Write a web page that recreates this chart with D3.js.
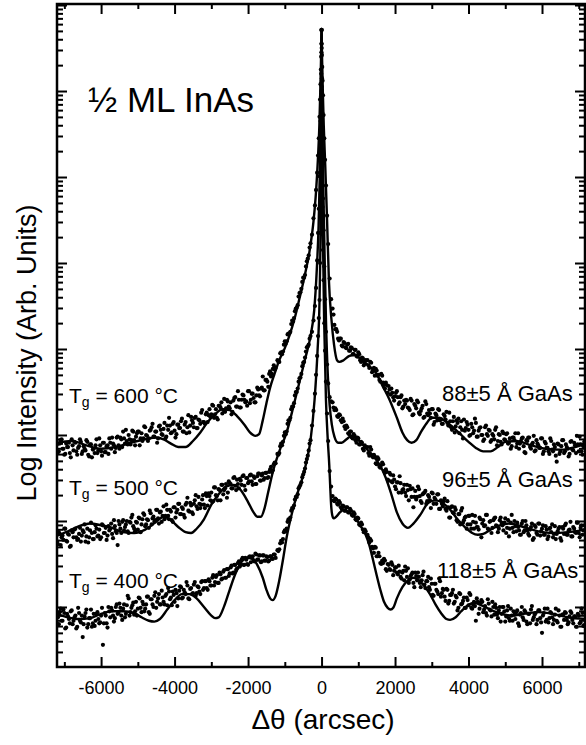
<!DOCTYPE html>
<html><head><meta charset="utf-8">
<script src="https://cdn.jsdelivr.net/npm/d3@7"></script>
<style>
body{margin:0;background:#fff}
svg{display:block}
text{font-family:"Liberation Sans",Arial,Helvetica,sans-serif;fill:#000}
</style>
</head><body>
<svg id="chart" width="586" height="745"></svg>
<script>
// ---- axis ticks ----
const xMajorTicks = [-6000,-4000,-2000,0,2000,4000,6000];
const xMinorTicks = [-7000,-5000,-3000,-1000,1000,3000,5000,7000];

// ---- scan grid A (Δθ, arcsec) shared by the three measured curves ----
const deltaTheta = [
-7200,-7150,-7100,-7050,-7000,-6950,-6900,-6850,-6800,-6750,
-6700,-6650,-6600,-6550,-6500,-6450,-6400,-6350,-6300,-6250,
-6200,-6150,-6100,-6050,-6000,-5950,-5900,-5850,-5800,-5750,
-5700,-5650,-5600,-5550,-5500,-5450,-5400,-5350,-5300,-5250,
-5200,-5150,-5100,-5050,-5000,-4950,-4900,-4850,-4800,-4750,
-4700,-4650,-4600,-4550,-4500,-4450,-4400,-4350,-4300,-4250,
-4200,-4150,-4100,-4050,-4000,-3950,-3900,-3850,-3800,-3750,
-3700,-3650,-3600,-3550,-3500,-3450,-3400,-3350,-3300,-3250,
-3200,-3150,-3100,-3050,-3000,-2950,-2900,-2850,-2800,-2750,
-2700,-2650,-2600,-2550,-2500,-2450,-2400,-2350,-2300,-2250,
-2200,-2150,-2100,-2050,-2000,-1950,-1900,-1850,-1800,-1750,
-1700,-1650,-1600,-1550,-1500,-1450,-1400,-1350,-1300,-1250,
-1200,-1150,-1100,-1050,-1000,-950,-900,-850,-800,-750,-700,-650,-600,-550,-500,-450,-400,-350,
-300,-260,-220,-180,-150,-120,-95,-75,-55,-40,-28,-18,-10,-4,
0,
4,10,18,28,40,55,75,95,120,150,180,220,260,300,
350,400,450,500,550,600,650,700,750,800,850,900,950,1000,1050,1100,1150,1200,
1250,1300,1350,1400,1450,1500,1550,1600,1650,1700,
1750,1800,1850,1900,1950,2000,2050,2100,2150,2200,
2250,2300,2350,2400,2450,2500,2550,2600,2650,2700,
2750,2800,2850,2900,2950,3000,3050,3100,3150,3200,
3250,3300,3350,3400,3450,3500,3550,3600,3650,3700,
3750,3800,3850,3900,3950,4000,4050,4100,4150,4200,
4250,4300,4350,4400,4450,4500,4550,4600,4650,4700,
4750,4800,4850,4900,4950,5000,5050,5100,5150,5200,
5250,5300,5350,5400,5450,5500,5550,5600,5650,5700,
5750,5800,5850,5900,5950,6000,6050,6100,6150,6200,
6250,6300,6350,6400,6450,6500,6550,6600,6650,6700,
6750,6800,6850,6900,6950,7000,7050,7100,7150
];

// ---- measured log10 intensity (arb. units) on grid A ----
const meas600 = [
1.89,1.81,1.94,1.84,1.77,1.90,1.86,1.79,1.95,1.82,
1.91,1.77,1.87,1.92,1.81,1.84,1.94,1.77,1.89,1.74,
1.84,1.88,1.79,1.96,1.81,1.91,1.80,1.87,1.78,1.91,
1.97,1.88,1.85,1.98,1.84,1.95,2.04,1.90,1.93,2.00,
1.89,2.05,1.94,1.98,2.04,1.88,2.02,1.96,2.09,1.99,
1.96,2.06,2.13,1.98,2.04,1.96,2.11,2.01,2.07,1.96,
2.11,2.20,2.02,2.13,2.05,2.01,2.12,2.08,2.19,2.04,
2.15,2.09,2.03,2.21,2.14,2.20,2.08,2.18,2.13,2.29,
2.15,2.24,2.15,2.30,2.24,2.34,2.24,2.20,2.34,2.32,
2.25,2.42,2.31,2.39,2.31,2.24,2.40,2.44,2.33,2.41,
2.32,2.47,2.41,2.39,2.51,2.37,2.48,2.43,2.38,2.55,
2.46,2.54,2.68,2.52,2.64,2.56,2.74,2.71,2.81,2.78,
2.87,2.85,2.96,2.97,3.09,3.09,3.18,3.20,3.33,3.36,3.47,3.51,3.65,3.70,3.83,3.86,4.02,4.09,
4.23,4.33,4.52,4.67,4.85,5.05,5.25,5.45,5.70,5.90,6.08,6.25,6.40,6.55,
6.71,
6.55,6.42,6.28,6.12,5.95,5.72,5.45,5.20,4.90,4.55,4.22,3.82,3.58,3.47,
3.28,3.23,3.12,3.12,3.04,3.08,3.02,3.05,2.98,3.02,2.94,2.99,2.92,2.96,2.87,2.90,2.81,2.87,
2.87,2.78,2.84,2.75,2.69,2.75,2.70,2.62,2.69,2.58,
2.61,2.49,2.53,2.54,2.44,2.45,2.51,2.36,2.44,2.31,
2.40,2.41,2.32,2.29,2.40,2.24,2.34,2.40,2.26,2.28,
2.34,2.21,2.36,2.23,2.25,2.30,2.12,2.25,2.17,2.29,
2.18,2.13,2.22,2.27,2.11,2.16,2.06,2.21,2.10,2.14,
2.02,2.16,1.96,2.05,2.15,2.06,2.00,2.09,2.05,2.14,
1.98,2.08,2.00,1.93,2.09,2.01,2.06,1.92,2.01,1.95,
2.09,1.93,2.00,1.89,2.02,1.94,2.02,1.91,1.84,1.97,
1.94,1.86,2.02,1.90,1.96,1.87,1.79,1.93,1.97,1.84,
1.91,1.81,1.94,1.88,1.85,1.96,1.81,1.90,1.85,1.78,
1.93,1.81,1.86,1.69,1.89,1.81,1.94,1.79,1.89,1.84,
1.78,1.93,1.82,1.88,1.99,1.81,1.89,1.77,1.92
];
const meas500 = [
0.76,0.87,0.72,0.83,0.91,0.77,0.85,0.70,0.89,0.81,
0.91,0.78,0.85,0.76,0.89,0.96,0.82,0.75,0.89,0.86,
0.79,0.95,0.82,0.90,0.81,0.95,0.86,0.78,0.94,0.91,
0.85,1.01,0.88,0.72,0.96,0.86,1.01,0.93,1.00,0.86,
0.98,1.07,0.91,0.99,0.90,1.03,0.96,1.09,0.94,1.02,
0.92,1.09,1.03,0.99,1.13,1.03,1.10,0.99,1.17,1.06,
1.13,1.02,1.11,0.99,1.16,1.10,1.20,1.08,1.16,1.07,
1.19,1.27,1.11,1.18,1.08,1.24,1.17,1.28,1.15,1.25,
1.19,1.32,1.18,1.29,1.33,1.23,1.39,1.29,1.37,1.24,
1.42,1.36,1.43,1.33,1.44,1.38,1.50,1.41,1.48,1.38,
1.47,1.52,1.41,1.50,1.44,1.53,1.46,1.52,1.43,1.52,
1.55,1.47,1.55,1.50,1.56,1.51,1.60,1.57,1.66,1.67,
1.78,1.79,1.90,1.92,2.03,2.04,2.17,2.20,2.33,2.37,2.50,2.54,2.66,2.71,2.84,2.90,3.02,3.05,
3.15,3.20,3.33,3.50,3.71,4.03,4.35,4.63,5.01,5.33,5.65,5.93,6.20,6.45,
6.71,
6.50,6.15,5.75,5.30,4.75,4.38,3.96,3.58,3.20,2.82,2.60,2.44,2.39,2.38,
2.29,2.29,2.21,2.23,2.15,2.16,2.07,2.09,2.01,2.04,1.96,1.99,1.91,1.96,1.89,1.91,1.82,1.86,
1.86,1.76,1.83,1.74,1.75,1.66,1.72,1.62,1.68,1.58,
1.60,1.48,1.56,1.46,1.53,1.40,1.45,1.33,1.44,1.36,
1.42,1.29,1.36,1.41,1.28,1.16,1.35,1.28,1.37,1.23,
1.31,1.33,1.20,1.30,1.24,1.33,1.20,1.25,1.31,1.14,
1.24,1.17,1.26,1.12,1.16,1.04,1.17,1.09,1.13,0.99,
1.08,1.12,0.98,1.04,0.91,1.06,0.96,1.07,0.91,0.98,
0.93,1.04,0.81,1.01,0.95,1.07,0.90,1.00,0.92,1.03,
0.95,0.87,1.01,0.98,0.89,1.03,0.92,0.82,0.98,0.92,
1.00,0.88,0.93,0.84,0.97,0.87,1.00,0.89,0.83,0.93,
0.78,0.95,0.86,0.97,0.83,0.91,0.84,0.94,0.79,0.91,
0.87,0.81,0.94,0.85,0.91,0.80,0.93,0.85,0.97,0.84,
0.90,0.82,0.93,0.87,0.98,0.86,0.92,0.84,0.95
];
const meas400 = [
-0.07,-0.20,-0.02,-0.16,-0.07,-0.24,-0.11,-0.19,-0.04,-0.16,
-0.10,-0.23,-0.07,-0.18,-0.35,-0.11,-0.03,-0.20,-0.13,-0.23,
-0.08,-0.16,-0.06,-0.19,-0.10,-0.44,-0.07,-0.19,0.00,-0.12,
-0.04,-0.17,0.00,-0.08,0.04,-0.10,-0.02,-0.12,0.02,0.10,
-0.06,0.02,-0.09,0.06,-0.02,0.10,-0.06,0.03,-0.02,0.12,
-0.06,0.09,0.03,0.13,-0.01,0.10,0.03,0.19,0.06,0.13,
0.02,0.18,0.11,0.18,0.06,0.16,0.10,0.24,0.10,0.20,
0.15,0.25,0.09,0.22,0.16,0.29,0.16,0.23,0.15,0.30,
0.22,0.30,0.20,0.30,0.25,0.37,0.29,0.37,0.28,0.38,
0.33,0.43,0.34,0.44,0.39,0.48,0.40,0.49,0.45,0.53,
0.49,0.57,0.49,0.55,0.49,0.59,0.57,0.54,0.62,0.55,
0.60,0.52,0.60,0.54,0.59,0.53,0.59,0.56,0.61,0.57,
0.66,0.67,0.77,0.79,0.89,0.91,1.02,1.04,1.15,1.18,1.28,1.31,1.40,1.45,1.54,1.61,1.72,1.82,
1.94,2.11,2.28,2.48,2.70,2.92,3.15,3.36,3.57,4.00,4.35,4.80,5.38,6.00,
6.71,
6.05,5.55,5.12,4.65,4.15,3.80,3.30,2.98,2.62,2.25,1.93,1.58,1.40,1.29,
1.23,1.25,1.19,1.21,1.14,1.17,1.12,1.16,1.10,1.12,1.06,1.08,1.01,1.03,0.95,0.96,0.87,0.88,
0.84,0.75,0.77,0.68,0.70,0.59,0.63,0.51,0.54,0.56,
0.44,0.50,0.44,0.52,0.37,0.46,0.40,0.48,0.35,0.40,
0.31,0.42,0.45,0.32,0.38,0.28,0.40,0.31,0.35,0.23,
0.37,0.26,0.30,0.35,0.20,0.27,0.13,0.27,0.18,0.33,
0.12,0.21,0.12,0.21,0.04,0.14,0.16,0.04,0.13,-0.04,
0.16,0.03,0.07,-0.01,0.11,0.02,0.14,-0.02,0.06,-0.16,
0.06,-0.02,0.08,-0.06,0.01,-0.10,0.04,-0.04,0.06,-0.09,
-0.01,-0.13,0.00,-0.08,0.00,-0.17,-0.04,-0.13,-0.02,-0.16,
-0.09,-0.06,-0.19,-0.09,0.00,-0.15,-0.06,-0.20,-0.08,-0.03,
-0.15,-0.09,-0.20,-0.04,-0.13,-0.30,-0.07,-0.17,-0.02,-0.13,
-0.07,-0.20,-0.09,-0.16,-0.04,-0.23,-0.09,-0.15,-0.07,-0.20,
-0.11,-0.07,-0.19,-0.11,-0.23,-0.10,-0.18,-0.07,-0.21
];

// ---- scan grid B (interleaved points, Δθ arcsec) ----
const deltaThetaB = [
-7175,-7125,-7075,-7025,-6975,-6925,-6875,-6825,-6775,-6725,
-6675,-6625,-6575,-6525,-6475,-6425,-6375,-6325,-6275,-6225,
-6175,-6125,-6075,-6025,-5975,-5925,-5875,-5825,-5775,-5725,
-5675,-5625,-5575,-5525,-5475,-5425,-5375,-5325,-5275,-5225,
-5175,-5125,-5075,-5025,-4975,-4925,-4875,-4825,-4775,-4725,
-4675,-4625,-4575,-4525,-4475,-4425,-4375,-4325,-4275,-4225,
-4175,-4125,-4075,-4025,-3975,-3925,-3875,-3825,-3775,-3725,
-3675,-3625,-3575,-3525,-3475,-3425,-3375,-3325,-3275,-3225,
-3175,-3125,-3075,-3025,-2975,-2925,-2875,-2825,-2775,-2725,
-2675,-2625,-2575,-2525,-2475,-2425,-2375,-2325,-2275,-2225,
-2175,-2125,-2075,-2025,-1975,-1925,-1875,-1825,-1775,-1725,
-1675,-1625,-1575,-1525,-1475,-1425,-1375,-1325,-1275,
-1175,-1125,-1075,-1025,-975,-925,-875,-825,-775,-725,-675,-625,-575,-525,-475,-425,-375,-325,
325,375,425,475,525,575,625,675,725,775,825,875,925,975,1025,1075,1125,1175,
1275,1325,1375,1425,1475,1525,1575,1625,1675,1725,
1775,1825,1875,1925,1975,2025,2075,2125,2175,2225,
2275,2325,2375,2425,2475,2525,2575,2625,2675,2725,
2775,2825,2875,2925,2975,3025,3075,3125,3175,3225,
3275,3325,3375,3425,3475,3525,3575,3625,3675,3725,
3775,3825,3875,3925,3975,4025,4075,4125,4175,4225,
4275,4325,4375,4425,4475,4525,4575,4625,4675,4725,
4775,4825,4875,4925,4975,5025,5075,5125,5175,5225,
5275,5325,5375,5425,5475,5525,5575,5625,5675,5725,
5775,5825,5875,5925,5975,6025,6075,6125,6175,6225,
6275,6325,6375,6425,6475,6525,6575,6625,6675,6725,
6775,6825,6875,6925,6975,7025,7075,7125
];
const measB600 = [
1.80,1.90,1.95,1.84,1.78,1.86,1.91,1.74,1.88,1.92,
1.81,1.85,1.95,1.78,1.87,1.82,1.92,1.75,1.89,1.83,
1.79,1.95,1.82,1.88,1.76,1.91,1.80,1.88,1.96,1.84,
1.90,1.80,1.97,1.88,1.97,1.86,1.96,2.06,1.89,1.95,
1.94,2.04,1.88,2.02,2.04,1.96,1.93,2.10,2.00,1.93,
2.05,2.09,1.98,2.04,1.91,2.10,2.06,2.00,2.14,1.98,
2.06,2.11,2.03,2.15,1.97,2.12,2.08,2.16,2.04,2.12,
2.02,2.23,2.11,2.17,2.09,2.21,2.08,2.17,2.26,2.15,
2.13,2.26,2.23,2.21,2.35,2.20,2.30,2.18,2.34,2.38,
2.29,2.27,2.41,2.33,2.38,2.27,2.43,2.33,2.51,2.32,
2.41,2.46,2.38,2.34,2.51,2.41,2.48,2.38,2.46,2.53,
2.45,2.55,2.52,2.64,2.62,2.71,2.68,2.77,2.76,
2.85,2.95,2.94,3.05,3.06,3.17,3.18,3.29,3.32,3.44,3.48,3.61,3.66,3.78,3.83,3.96,4.05,4.18,
3.40,3.23,3.20,3.10,3.12,3.03,3.07,3.01,3.06,2.98,3.01,2.94,2.99,2.91,2.94,2.85,2.89,2.83,
2.81,2.85,2.73,2.78,2.77,2.69,2.64,2.71,2.61,2.54,
2.58,2.57,2.47,2.49,2.40,2.49,2.44,2.38,2.46,2.33,
2.36,2.40,2.31,2.42,2.23,2.36,2.31,2.38,2.24,2.31,
2.20,2.39,2.25,2.29,2.20,2.30,2.15,2.23,2.30,2.17,
2.13,2.24,2.18,2.14,2.26,2.09,2.16,2.03,2.17,2.19,
2.09,2.06,2.18,2.08,2.12,1.99,2.13,2.02,2.19,1.98,
2.05,2.09,2.00,1.95,2.11,1.99,2.05,1.94,1.99,2.06,
1.88,2.01,1.92,2.04,1.95,2.01,1.90,1.96,1.87,1.97,
2.02,1.90,1.84,1.93,1.97,1.80,1.94,1.97,1.86,1.89,
1.99,1.82,1.90,1.85,1.96,1.78,1.92,1.85,1.81,1.96,
1.83,1.89,1.76,1.90,1.78,1.87,1.94,1.81,1.86,1.75,
1.92,1.83,1.91,1.79,1.89,1.98,1.81,1.87
];
const measB500 = [
0.73,0.85,0.81,0.78,0.91,0.76,0.84,0.71,0.87,0.90,
0.81,0.79,0.92,0.83,0.87,0.76,0.91,0.81,0.98,0.79,
0.87,0.91,0.83,0.79,0.96,0.86,0.92,0.83,0.89,0.97,
0.80,0.94,0.86,1.00,0.91,0.99,0.89,0.96,0.88,0.99,
1.04,0.94,0.88,0.98,1.04,0.87,1.02,1.07,0.96,1.01,
1.12,0.96,1.05,1.01,1.13,0.97,1.11,1.06,1.02,1.19,
1.06,1.13,1.01,1.16,1.04,1.13,1.20,1.08,1.14,1.04,
1.21,1.12,1.21,1.10,1.20,1.30,1.14,1.20,1.19,1.30,
1.15,1.29,1.32,1.24,1.22,1.39,1.30,1.24,1.36,1.42,
1.31,1.38,1.27,1.46,1.43,1.38,1.51,1.36,1.43,1.49,
1.42,1.53,1.36,1.50,1.46,1.54,1.42,1.50,1.43,1.55,
1.47,1.53,1.48,1.56,1.50,1.57,1.63,1.59,1.68,
1.77,1.87,1.88,1.99,2.01,2.13,2.17,2.30,2.33,2.46,2.50,2.62,2.67,2.80,2.85,2.97,3.03,3.12,
2.32,2.31,2.22,2.24,2.17,2.19,2.10,2.11,2.02,2.04,1.97,2.01,1.94,1.97,1.89,1.92,1.84,1.88,
1.79,1.86,1.76,1.77,1.67,1.74,1.63,1.65,1.66,1.56,
1.57,1.47,1.54,1.45,1.48,1.37,1.45,1.52,1.33,1.37,
1.33,1.42,1.24,1.37,1.38,1.28,1.25,1.40,1.29,1.21,
1.32,1.35,1.23,1.28,1.15,1.32,1.27,1.20,1.31,1.14,
1.20,1.23,1.14,1.23,1.04,1.16,1.10,1.16,1.01,1.08,
0.96,1.15,1.01,1.05,0.96,1.06,0.91,0.99,1.06,0.93,
0.90,1.02,0.97,0.94,1.07,0.91,0.99,0.86,1.01,1.04,
0.94,0.91,1.04,0.95,0.98,0.86,1.01,0.91,1.07,0.87,
0.94,0.98,0.89,0.84,1.00,0.89,0.95,0.85,0.90,0.97,
0.80,0.93,0.84,0.97,0.88,0.95,0.84,0.90,0.82,0.92,
0.96,0.85,0.79,0.88,0.93,0.77,0.91,0.95,0.84,0.89,
0.99,0.82,0.91,0.86,0.98,0.81,0.95,0.89
];
const measB400 = [
-0.12,-0.06,-0.16,-0.03,-0.25,-0.08,-0.14,-0.05,-0.20,-0.12,
-0.25,-0.01,-0.16,-0.10,-0.20,-0.07,-0.24,-0.13,-0.03,-0.19,
-0.22,-0.08,-0.14,-0.18,-0.01,-0.19,-0.10,-0.24,-0.05,-0.01,
-0.10,-0.13,0.03,-0.07,-0.01,-0.15,0.03,-0.08,0.13,-0.10,
-0.01,0.05,-0.05,-0.10,0.11,-0.01,0.06,-0.05,0.03,0.12,
-0.08,0.09,0.00,0.17,0.06,0.15,0.03,0.11,0.03,0.15,
0.22,0.09,0.02,0.14,0.20,0.01,0.19,0.23,0.11,0.17,
0.29,0.10,0.21,0.15,0.26,0.13,0.24,0.18,0.29,0.20,
0.30,0.22,0.32,0.25,0.34,0.25,0.35,0.28,0.40,0.32,
0.41,0.34,0.44,0.36,0.46,0.39,0.49,0.43,0.51,0.47,
0.55,0.49,0.57,0.50,0.58,0.52,0.59,0.53,0.61,0.55,
0.60,0.53,0.60,0.54,0.58,0.54,0.59,0.56,0.61,
0.65,0.74,0.75,0.87,0.88,0.99,1.01,1.12,1.15,1.25,1.28,1.38,1.42,1.51,1.57,1.68,1.76,1.90,
1.24,1.26,1.20,1.23,1.16,1.18,1.12,1.16,1.10,1.14,1.07,1.10,1.02,1.04,0.96,0.98,0.90,0.90,
0.81,0.79,0.70,0.63,0.69,0.59,0.59,0.50,0.51,0.54,
0.42,0.49,0.43,0.49,0.42,0.46,0.38,0.41,0.33,0.42,
0.47,0.35,0.28,0.36,0.40,0.23,0.36,0.40,0.28,0.31,
0.41,0.22,0.30,0.23,0.33,0.14,0.27,0.20,0.15,0.30,
0.16,0.20,0.07,0.20,0.07,0.14,0.20,0.06,0.11,-0.01,
0.15,0.04,0.11,-0.01,0.08,0.16,-0.01,0.03,0.01,0.10,
-0.08,0.05,0.06,-0.03,-0.07,0.09,-0.03,-0.11,0.00,0.03,
-0.09,-0.04,-0.17,0.00,-0.05,-0.11,0.01,-0.16,-0.10,-0.05,
-0.14,-0.04,-0.22,-0.07,-0.12,-0.04,-0.17,-0.08,-0.19,0.01,
-0.12,-0.07,-0.15,-0.04,-0.18,-0.10,-0.02,-0.15,-0.18,-0.06,
-0.12,-0.15,-0.02,-0.18,-0.10,-0.23,-0.09,-0.06,-0.15,-0.18,
-0.05,-0.15,-0.11,-0.23,-0.08,-0.19,-0.02,-0.22
];

// ---- simulated (fit) curves: [Δθ, log10 intensity] ----
const fit600 = [[-7200,1.91],[-6800,1.93],[-6400,1.88],[-6000,1.84],[-5600,1.86],[-5200,1.91],[-4800,1.95],[-4500,1.97],[-4300,1.95],[-4100,1.90],[-3900,1.86],[-3700,1.86],[-3500,1.93],[-3300,2.03],[-3100,2.15],[-2900,2.24],[-2700,2.30],[-2500,2.29],[-2300,2.22],[-2100,2.12],[-1950,2.03],[-1800,1.99],[-1700,2.01],[-1600,2.17],[-1500,2.37],[-1400,2.55],[-1280,2.71],[-1150,2.87],[-1000,3.01],[-870,3.16],[-730,3.36],[-600,3.59],[-460,3.85],[-330,4.13],[-220,4.48],[-150,4.83],[-100,5.20],[-60,5.60],[-30,6.07],[-12,6.42],[0,6.71],[12,6.42],[30,6.07],[60,5.60],[100,5.14],[150,4.50],[200,3.80],[270,3.34],[340,3.05],[420,2.87],[490,2.85],[600,2.87],[760,2.92],[900,2.93],[1100,2.87],[1300,2.80],[1500,2.71],[1650,2.58],[1850,2.41],[2050,2.20],[2200,2.03],[2330,1.94],[2450,1.91],[2580,1.94],[2700,2.03],[2850,2.13],[3000,2.20],[3200,2.20],[3400,2.15],[3600,2.08],[3800,2.00],[4000,1.92],[4200,1.85],[4400,1.81],[4600,1.81],[4800,1.86],[5000,1.92],[5300,1.93],[5700,1.88],[6100,1.84],[6500,1.83],[6900,1.86],[7170,1.90]];
const fit500 = [[-7200,0.83],[-6900,0.88],[-6600,0.94],[-6300,0.97],[-6000,0.95],[-5700,0.92],[-5400,0.87],[-5100,0.86],[-4800,0.90],[-4500,0.99],[-4300,1.05],[-4100,1.01],[-3900,0.93],[-3700,0.87],[-3550,0.86],[-3400,0.91],[-3200,1.02],[-3000,1.19],[-2800,1.31],[-2600,1.40],[-2400,1.42],[-2200,1.36],[-2000,1.22],[-1850,1.10],[-1750,1.05],[-1650,1.05],[-1550,1.15],[-1450,1.34],[-1333,1.56],[-1150,1.81],[-950,2.03],[-750,2.36],[-600,2.62],[-450,2.88],[-300,3.15],[-200,3.45],[-130,3.92],[-80,4.44],[-45,5.08],[-20,5.78],[-8,6.30],[0,6.71],[8,6.30],[20,5.78],[45,4.96],[80,4.15],[120,3.34],[170,2.70],[220,2.35],[280,2.12],[350,1.98],[450,1.91],[550,1.91],[680,1.95],[820,1.99],[1000,1.94],[1200,1.85],[1400,1.76],[1600,1.64],[1750,1.50],[1900,1.31],[2050,1.10],[2200,0.97],[2350,0.92],[2500,0.97],[2700,1.08],[2900,1.21],[3100,1.24],[3300,1.21],[3500,1.13],[3700,1.02],[3900,0.93],[4100,0.86],[4250,0.84],[4400,0.85],[4600,0.90],[4800,0.94],[5100,0.97],[5500,0.93],[5900,0.88],[6300,0.86],[6700,0.87],[7170,0.90]];
const fit400 = [[-7200,-0.08],[-6900,-0.12],[-6600,-0.14],[-6300,-0.13],[-6000,-0.08],[-5700,-0.05],[-5400,-0.05],[-5100,-0.07],[-4900,-0.12],[-4700,-0.16],[-4550,-0.17],[-4400,-0.14],[-4200,-0.03],[-4000,0.08],[-3800,0.15],[-3600,0.15],[-3400,0.10],[-3200,0.00],[-3000,-0.10],[-2900,-0.13],[-2800,-0.12],[-2650,0.01],[-2500,0.20],[-2350,0.38],[-2200,0.51],[-2050,0.57],[-1900,0.57],[-1750,0.49],[-1600,0.34],[-1500,0.20],[-1400,0.10],[-1330,0.08],[-1250,0.13],[-1150,0.31],[-1050,0.55],[-950,0.81],[-800,1.10],[-680,1.29],[-520,1.50],[-410,1.69],[-300,1.94],[-190,2.41],[-110,2.97],[-55,3.57],[-27,4.38],[-11,5.31],[0,6.71],[11,5.31],[35,4.38],[70,3.34],[120,2.41],[170,1.94],[210,1.65],[240,1.36],[260,1.19],[290,1.07],[330,1.03],[400,1.05],[500,1.10],[600,1.13],[750,1.10],[900,1.05],[1050,0.95],[1200,0.84],[1300,0.72],[1400,0.55],[1500,0.37],[1600,0.20],[1700,0.06],[1800,-0.01],[1880,-0.03],[1950,-0.01],[2050,0.10],[2200,0.23],[2350,0.31],[2500,0.34],[2650,0.31],[2800,0.24],[2950,0.15],[3100,0.03],[3250,-0.07],[3400,-0.14],[3500,-0.15],[3650,-0.12],[3800,-0.05],[3950,0.01],[4150,0.05],[4400,0.01],[4700,-0.05],[5000,-0.09],[5200,-0.10],[5500,-0.08],[5900,-0.06],[6300,-0.08],[6700,-0.12],[7170,-0.14]];

const growthLabels = ["600","500","400"];
const thicknessLabels = ["88±5 Å GaAs","96±5 Å GaAs","118±5 Å GaAs"];

// ---- layout ----
const L = 57, R = 585, T = 4, B = 667;
const svg = d3.select("#chart");
const x = d3.scaleLinear().domain([-7200, 7170]).range([L, R]);
const y = d3.scaleLog().domain([Math.pow(10, -0.698), Math.pow(10, 7.012)]).range([B, T]);
const I = v => Math.pow(10, v);

svg.append("clipPath").attr("id","clip").append("rect")
  .attr("x", L).attr("y", T).attr("width", R - L).attr("height", B - T);

const series = [
  {measA: meas600, measB: measB600, fit: fit600},
  {measA: meas500, measB: measB500, fit: fit500},
  {measA: meas400, measB: measB400, fit: fit400}
];

const plot = svg.append("g").attr("clip-path","url(#clip)");
const line = d3.line().x(d => x(d[0])).y(d => y(I(d[1]))).curve(d3.curveMonotoneX);

series.forEach(s => {
  const pts = deltaTheta.map((d, i) => [d, s.measA[i]])
    .concat(deltaThetaB.map((d, i) => [d, s.measB[i]]))
    .filter(p => p[1] !== undefined);
  plot.append("g").selectAll("circle").data(pts).join("circle")
    .attr("cx", d => x(d[0])).attr("cy", d => y(I(d[1]))).attr("r", 2.1).attr("fill", "#000");
});
series.forEach(s => {
  plot.append("path").datum(s.fit).attr("d", line)
    .attr("fill","none").attr("stroke","#000").attr("stroke-width",2.4).attr("stroke-linejoin","round");
});

// ---- axes ----
const fontFam = '"Liberation Sans",Arial,Helvetica,sans-serif';
function styleAxis(g) {
  g.select(".domain").remove();
  g.selectAll(".tick line").attr("stroke","#000").attr("stroke-width",2);
  g.selectAll(".tick text").attr("font-family", fontFam).attr("font-size", 18).attr("fill","#000");
}
svg.append("g").attr("transform",`translate(0,${B})`)
  .call(d3.axisBottom(x).tickValues(xMajorTicks).tickSize(-10).tickPadding(14).tickFormat(d => String(d)))
  .call(styleAxis);
svg.append("g").attr("transform",`translate(0,${B})`)
  .call(d3.axisBottom(x).tickValues(xMinorTicks).tickSize(-5).tickFormat(""))
  .call(styleAxis);
svg.append("g").attr("transform",`translate(0,${T})`)
  .call(d3.axisTop(x).tickValues(xMajorTicks).tickSize(-10).tickFormat(""))
  .call(styleAxis);
svg.append("g").attr("transform",`translate(0,${T})`)
  .call(d3.axisTop(x).tickValues(xMinorTicks).tickSize(-5).tickFormat(""))
  .call(styleAxis);

const yAll = y.ticks();
const isDecade = v => Math.abs(Math.log10(v) - Math.round(Math.log10(v))) < 1e-9;
const yMajor = yAll.filter(isDecade);
const yMinor = yAll.filter(v => !isDecade(v));
[[d3.axisLeft, L], [d3.axisRight, R]].forEach(([ax, pos]) => {
  svg.append("g").attr("transform",`translate(${pos},0)`)
    .call(ax(y).tickValues(yMajor).tickSize(-10).tickFormat(""))
    .call(styleAxis);
  svg.append("g").attr("transform",`translate(${pos},0)`)
    .call(ax(y).tickValues(yMinor).tickSize(-6).tickFormat(""))
    .call(styleAxis);
});

svg.append("rect").attr("x", L).attr("y", T).attr("width", R - L).attr("height", B - T)
  .attr("fill","none").attr("stroke","#000").attr("stroke-width",2.5);

// ---- titles and labels ----
svg.append("text").attr("x", 323).attr("y", 729).attr("text-anchor","middle")
  .attr("font-size", 28).text("Δθ (arcsec)");
svg.append("text").attr("transform","translate(36,353) rotate(-90)").attr("text-anchor","middle")
  .attr("font-size", 27).text("Log Intensity (Arb. Units)");
svg.append("text").attr("x", 88).attr("y", 112).attr("font-size", 35).text("½ ML InAs");

const tgY = [403, 495, 588];
growthLabels.forEach((t, i) => {
  const tx = svg.append("text").attr("x", 69).attr("y", tgY[i]).attr("font-size", 21);
  tx.append("tspan").text("T");
  tx.append("tspan").attr("font-size", 14).attr("dy", 4).text("g");
  tx.append("tspan").attr("dy", -4).text(` = ${t} °C`);
});
const thX = [442, 442, 437];
const thY = [401, 487, 578];
thicknessLabels.forEach((t, i) => {
  svg.append("text").attr("x", thX[i]).attr("y", thY[i]).attr("font-size", 22).text(t);
});
</script>
</body></html>
